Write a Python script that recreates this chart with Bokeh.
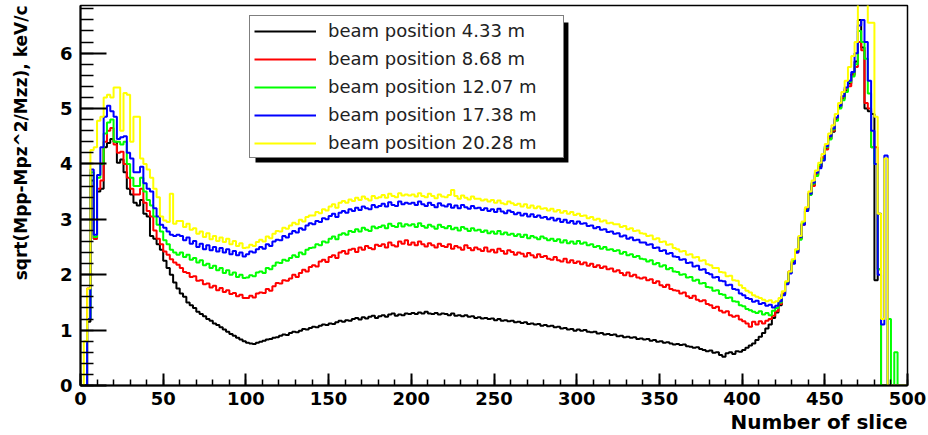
import numpy as np
from bokeh.plotting import figure
from bokeh.models import (Range1d, LinearAxis, SingleIntervalTicker, Title,
                          Legend, LegendItem, BoxAnnotation)
from bokeh.embed import file_html
from bokeh.resources import INLINE

# Histogram binning along the slice axis
BIN_WIDTH = 2
N_BINS = 250

labels = ["beam position 4.33 m", "beam position 8.68 m", "beam position 12.07 m",
          "beam position 17.38 m", "beam position 20.28 m"]
colors = ["#000000", "#ff0000", "#00ff00", "#0000ff", "#ffff00"]

# sqrt(Mpp-Mpz^2/Mzz) per slice, keV/c (one value per 2-slice bin)
pos_4_33 = [
    0, 0, 1.15, 3.70, 2.65, 3.50, 3.55, 4.30, 4.38, 4.45,
    4.40, 4.02, 4.08, 3.85, 3.55, 3.45, 3.30, 3.25, 3.35, 3.10,
    3.05, 2.70, 2.65, 2.55, 2.45, 2.25, 2.12, 2.00, 1.86, 1.75,
    1.66, 1.60, 1.50, 1.45, 1.40, 1.33, 1.29, 1.25, 1.20, 1.17,
    1.12, 1.09, 1.05, 1.01, 0.97, 0.93, 0.90, 0.86, 0.83, 0.80,
    0.77, 0.76, 0.75, 0.77, 0.79, 0.81, 0.83, 0.84, 0.86, 0.87,
    0.90, 0.92, 0.91, 0.95, 0.97, 0.96, 0.99, 1.02, 1.01, 1.04,
    1.06, 1.05, 1.08, 1.10, 1.09, 1.12, 1.11, 1.14, 1.17, 1.15,
    1.18, 1.17, 1.20, 1.22, 1.19, 1.23, 1.21, 1.24, 1.26, 1.22,
    1.25, 1.27, 1.24, 1.28, 1.30, 1.26, 1.28, 1.27, 1.30, 1.29,
    1.31, 1.29, 1.32, 1.30, 1.33, 1.30, 1.29, 1.31, 1.28, 1.30,
    1.29, 1.27, 1.30, 1.26, 1.27, 1.25, 1.27, 1.24, 1.25, 1.22,
    1.23, 1.21, 1.22, 1.20, 1.21, 1.18, 1.20, 1.17, 1.18, 1.16,
    1.17, 1.14, 1.15, 1.13, 1.14, 1.11, 1.12, 1.10, 1.11, 1.08,
    1.09, 1.07, 1.08, 1.05, 1.06, 1.03, 1.04, 1.01, 1.02, 0.99,
    1.01, 0.99, 1.00, 0.97, 0.96, 0.97, 0.94, 0.95, 0.92, 0.93,
    0.91, 0.92, 0.89, 0.90, 0.87, 0.88, 0.86, 0.87, 0.84, 0.85,
    0.83, 0.84, 0.81, 0.82, 0.79, 0.80, 0.77, 0.78, 0.76, 0.74,
    0.75, 0.73, 0.74, 0.71, 0.70, 0.68, 0.69, 0.66, 0.64, 0.62,
    0.63, 0.59, 0.60, 0.55, 0.52, 0.58, 0.60, 0.57, 0.62, 0.61,
    0.64, 0.68, 0.72, 0.76, 0.82, 0.88, 0.95, 1.03, 1.10, 1.22,
    1.32, 1.45, 1.65, 1.85, 2.05, 2.22, 2.42, 2.65, 2.92, 3.18,
    3.45, 3.62, 3.80, 3.95, 4.10, 4.28, 4.45, 4.58, 4.80, 5.02,
    5.18, 5.32, 5.45, 5.62, 5.85, 6.60, 6.10, 5.00, 4.95, 4.90,
    1.90, 3.10, 0, 0, 0, 0, 0, 0, 0, 0,
]

pos_8_68 = [
    0, 0, 1.75, 3.60, 2.65, 3.55, 3.70, 4.40, 4.60, 4.65,
    4.35, 4.20, 4.22, 4.00, 3.75, 3.55, 3.45, 3.45, 3.55, 3.30,
    3.15, 3.05, 2.80, 2.65, 2.55, 2.42, 2.36, 2.28, 2.22, 2.18,
    2.12, 2.05, 2.03, 1.96, 1.97, 1.89, 1.90, 1.83, 1.84, 1.77,
    1.80, 1.72, 1.76, 1.69, 1.72, 1.65, 1.67, 1.61, 1.64, 1.58,
    1.58, 1.62, 1.59, 1.66, 1.68, 1.67, 1.74, 1.71, 1.79, 1.85,
    1.84, 1.90, 1.89, 1.93, 2.00, 1.96, 2.03, 2.09, 2.06, 2.14,
    2.17, 2.15, 2.24, 2.27, 2.23, 2.32, 2.35, 2.30, 2.40, 2.43,
    2.38, 2.45, 2.47, 2.41, 2.49, 2.45, 2.52, 2.48, 2.46, 2.54,
    2.52, 2.55, 2.49, 2.58, 2.53, 2.51, 2.60, 2.56, 2.62, 2.54,
    2.58, 2.53, 2.60, 2.55, 2.51, 2.57, 2.53, 2.49, 2.56, 2.52,
    2.50, 2.55, 2.47, 2.52, 2.49, 2.45, 2.53, 2.48, 2.44, 2.49,
    2.46, 2.43, 2.49, 2.42, 2.45, 2.40, 2.47, 2.43, 2.38, 2.44,
    2.41, 2.36, 2.40, 2.38, 2.33, 2.39, 2.35, 2.31, 2.37, 2.32,
    2.34, 2.29, 2.27, 2.32, 2.26, 2.24, 2.29, 2.22, 2.26, 2.21,
    2.24, 2.19, 2.22, 2.16, 2.20, 2.14, 2.17, 2.12, 2.15, 2.10,
    2.11, 2.06, 2.08, 2.03, 1.99, 2.04, 1.97, 2.00, 1.95, 1.93,
    1.95, 1.90, 1.92, 1.85, 1.88, 1.81, 1.78, 1.82, 1.74, 1.72,
    1.71, 1.66, 1.68, 1.61, 1.58, 1.62, 1.55, 1.52, 1.54, 1.47,
    1.45, 1.40, 1.42, 1.35, 1.32, 1.34, 1.27, 1.24, 1.26, 1.19,
    1.16, 1.12, 1.06, 1.15, 1.10, 1.16, 1.12, 1.17, 1.20, 1.26,
    1.34, 1.47, 1.66, 1.84, 2.06, 2.24, 2.40, 2.66, 2.90, 3.20,
    3.47, 3.60, 3.82, 3.97, 4.12, 4.26, 4.48, 4.60, 4.82, 5.05,
    5.20, 5.35, 5.40, 5.60, 5.75, 6.20, 6.05, 5.10, 5.00, 4.30,
    4.30, 2.10, 0, 0, 0, 0, 0, 0, 0, 0,
]

pos_12_07 = [
    0, 0, 1.20, 3.85, 2.68, 3.75, 4.00, 4.55, 4.75, 4.80,
    4.40, 4.40, 4.35, 4.40, 4.00, 3.75, 3.60, 3.60, 3.75, 3.50,
    3.35, 3.25, 3.05, 2.90, 2.78, 2.62, 2.55, 2.45, 2.40, 2.36,
    2.40, 2.32, 2.36, 2.27, 2.30, 2.22, 2.26, 2.17, 2.20, 2.12,
    2.16, 2.08, 2.12, 2.03, 2.08, 2.00, 2.04, 1.96, 2.00, 1.94,
    1.95, 1.99, 1.97, 2.04, 2.06, 2.03, 2.12, 2.10, 2.16, 2.22,
    2.21, 2.27, 2.25, 2.30, 2.35, 2.32, 2.40, 2.37, 2.45, 2.48,
    2.49, 2.55, 2.53, 2.60, 2.58, 2.65, 2.69, 2.64, 2.72, 2.75,
    2.72, 2.79, 2.77, 2.82, 2.78, 2.85, 2.81, 2.79, 2.87, 2.84,
    2.86, 2.89, 2.84, 2.92, 2.88, 2.86, 2.93, 2.87, 2.91, 2.89,
    2.91, 2.86, 2.93, 2.88, 2.85, 2.90, 2.87, 2.83, 2.90, 2.86,
    2.84, 2.88, 2.82, 2.85, 2.80, 2.86, 2.83, 2.79, 2.84, 2.80,
    2.81, 2.77, 2.80, 2.75, 2.78, 2.74, 2.79, 2.73, 2.76, 2.72,
    2.74, 2.70, 2.73, 2.68, 2.72, 2.66, 2.70, 2.67, 2.64, 2.69,
    2.66, 2.62, 2.65, 2.61, 2.64, 2.58, 2.62, 2.57, 2.60, 2.56,
    2.61, 2.56, 2.58, 2.53, 2.55, 2.50, 2.52, 2.47, 2.50, 2.45,
    2.46, 2.43, 2.44, 2.38, 2.41, 2.35, 2.37, 2.32, 2.34, 2.29,
    2.28, 2.24, 2.26, 2.19, 2.21, 2.15, 2.17, 2.10, 2.12, 2.06,
    2.05, 2.00, 2.01, 1.95, 1.96, 1.89, 1.91, 1.84, 1.85, 1.78,
    1.77, 1.71, 1.72, 1.65, 1.64, 1.58, 1.59, 1.52, 1.51, 1.45,
    1.43, 1.38, 1.36, 1.33, 1.31, 1.34, 1.28, 1.31, 1.27, 1.35,
    1.40, 1.50, 1.64, 1.86, 2.04, 2.25, 2.44, 2.63, 2.94, 3.16,
    3.44, 3.64, 3.78, 3.98, 4.08, 4.30, 4.44, 4.62, 4.78, 5.00,
    5.15, 5.30, 5.48, 5.58, 5.80, 6.40, 6.20, 5.90, 5.27, 4.30,
    4.00, 2.10, 0, 0, 1.20, 0, 0.60, 0, 0, 0,
]

pos_17_38 = [
    0, 0, 1.20, 3.90, 2.72, 3.80, 4.30, 4.85, 5.05, 4.95,
    4.85, 4.45, 4.48, 4.50, 4.20, 4.10, 3.85, 3.85, 3.95, 3.65,
    3.55, 3.50, 3.20, 3.05, 2.90, 2.85, 2.78, 2.72, 2.70, 2.72,
    2.70, 2.62, 2.67, 2.56, 2.61, 2.50, 2.56, 2.46, 2.53, 2.44,
    2.50, 2.42, 2.48, 2.40, 2.46, 2.37, 2.43, 2.35, 2.40, 2.33,
    2.37, 2.42, 2.40, 2.46, 2.50, 2.47, 2.55, 2.52, 2.60, 2.63,
    2.62, 2.70, 2.67, 2.74, 2.79, 2.76, 2.84, 2.81, 2.89, 2.93,
    2.91, 2.97, 2.95, 3.02, 3.00, 3.06, 3.10, 3.04, 3.12, 3.15,
    3.12, 3.18, 3.15, 3.21, 3.17, 3.23, 3.20, 3.18, 3.26, 3.22,
    3.24, 3.28, 3.23, 3.31, 3.26, 3.24, 3.32, 3.27, 3.30, 3.28,
    3.30, 3.26, 3.32, 3.27, 3.24, 3.30, 3.26, 3.22, 3.29, 3.25,
    3.23, 3.27, 3.21, 3.25, 3.20, 3.26, 3.22, 3.19, 3.24, 3.20,
    3.21, 3.17, 3.20, 3.15, 3.18, 3.13, 3.19, 3.14, 3.11, 3.16,
    3.13, 3.09, 3.12, 3.07, 3.10, 3.05, 3.09, 3.04, 3.07, 3.03,
    3.04, 3.00, 3.03, 2.98, 3.01, 2.95, 2.99, 2.94, 2.97, 2.92,
    2.96, 2.92, 2.93, 2.88, 2.89, 2.84, 2.86, 2.81, 2.82, 2.77,
    2.78, 2.74, 2.75, 2.69, 2.71, 2.65, 2.67, 2.62, 2.63, 2.58,
    2.58, 2.54, 2.55, 2.48, 2.49, 2.43, 2.44, 2.38, 2.39, 2.33,
    2.32, 2.27, 2.28, 2.21, 2.22, 2.15, 2.16, 2.09, 2.10, 2.03,
    2.01, 1.95, 1.96, 1.89, 1.88, 1.81, 1.82, 1.74, 1.73, 1.66,
    1.63, 1.58, 1.56, 1.51, 1.53, 1.47, 1.49, 1.44, 1.46, 1.41,
    1.44, 1.52, 1.63, 1.83, 2.02, 2.20, 2.40, 2.68, 2.90, 3.15,
    3.46, 3.66, 3.84, 3.92, 4.06, 4.32, 4.50, 4.64, 4.84, 5.05,
    5.22, 5.38, 5.50, 5.66, 6.00, 6.50, 6.60, 6.20, 5.50, 4.60,
    4.00, 2.00, 1.10, 4.15, 0, 0, 0, 0, 0, 0,
]

pos_20_28 = [
    0, 0.80, 1.75, 4.25, 4.30, 4.78, 4.85, 5.20, 5.25, 5.20,
    5.38, 5.38, 4.60, 5.28, 5.25, 4.40, 4.85, 4.85, 4.10, 4.00,
    3.90, 3.75, 3.55, 3.40, 3.05, 2.98, 2.95, 3.46, 2.92, 2.97,
    2.97, 2.86, 2.92, 2.81, 2.84, 2.74, 2.78, 2.68, 2.75, 2.64,
    2.70, 2.61, 2.67, 2.59, 2.65, 2.55, 2.61, 2.52, 2.57, 2.48,
    2.49, 2.54, 2.52, 2.59, 2.63, 2.60, 2.69, 2.66, 2.74, 2.79,
    2.78, 2.85, 2.83, 2.89, 2.94, 2.91, 2.99, 2.96, 3.04, 3.07,
    3.07, 3.13, 3.11, 3.18, 3.16, 3.23, 3.27, 3.21, 3.30, 3.33,
    3.30, 3.36, 3.33, 3.39, 3.35, 3.41, 3.37, 3.34, 3.42, 3.38,
    3.40, 3.44, 3.39, 3.46, 3.42, 3.40, 3.47, 3.43, 3.45, 3.43,
    3.45, 3.41, 3.47, 3.42, 3.40, 3.46, 3.42, 3.38, 3.45, 3.41,
    3.40, 3.44, 3.53, 3.42, 3.37, 3.43, 3.39, 3.36, 3.41, 3.37,
    3.37, 3.34, 3.36, 3.32, 3.35, 3.30, 3.34, 3.29, 3.27, 3.32,
    3.29, 3.26, 3.28, 3.23, 3.27, 3.21, 3.25, 3.20, 3.23, 3.19,
    3.20, 3.16, 3.19, 3.14, 3.17, 3.12, 3.15, 3.10, 3.13, 3.08,
    3.10, 3.06, 3.07, 3.02, 3.04, 2.99, 3.01, 2.96, 2.98, 2.93,
    2.94, 2.91, 2.91, 2.86, 2.88, 2.82, 2.84, 2.79, 2.80, 2.75,
    2.74, 2.70, 2.71, 2.64, 2.66, 2.59, 2.60, 2.54, 2.55, 2.48,
    2.46, 2.42, 2.43, 2.36, 2.37, 2.31, 2.32, 2.25, 2.26, 2.19,
    2.17, 2.12, 2.12, 2.05, 2.04, 1.97, 1.98, 1.90, 1.89, 1.81,
    1.76, 1.71, 1.68, 1.63, 1.60, 1.58, 1.55, 1.52, 1.54, 1.50,
    1.52, 1.58, 1.70, 1.88, 2.06, 2.28, 2.46, 2.70, 2.96, 3.22,
    3.50, 3.70, 3.88, 4.02, 4.18, 4.36, 4.55, 4.70, 4.90, 5.10,
    5.30, 5.50, 5.75, 5.95, 6.20, 6.90, 6.90, 6.90, 6.55, 6.55,
    4.85, 3.10, 1.20, 4.10, 0, 0, 0, 0, 0, 0,
]

series = [pos_4_33, pos_8_68, pos_12_07, pos_17_38, pos_20_28]
for s in series:
    assert len(s) == N_BINS

# bin edges (left edges plus the closing right edge)
edges = [BIN_WIDTH * i for i in range(N_BINS + 1)]

FONT = "DejaVu Sans"

p = figure(width=928, height=435,
           x_range=Range1d(0, 500), y_range=Range1d(0, 6.86),
           x_axis_type=None, y_axis_type=None,
           output_backend="svg", toolbar_location=None,
           min_border_left=80, min_border_right=21,
           min_border_top=5, min_border_bottom=50)
p.background_fill_color = "white"
p.border_fill_color = "white"
p.outline_line_color = "black"
p.outline_line_width = 1.5
p.xgrid.visible = False
p.ygrid.visible = False

xaxis = LinearAxis(ticker=SingleIntervalTicker(interval=50, num_minor_ticks=5))
yaxis = LinearAxis(ticker=SingleIntervalTicker(interval=1, num_minor_ticks=5))
for ax in (xaxis, yaxis):
    ax.axis_line_width = 2
    ax.axis_line_color = "black"
    ax.major_tick_out = 0
    ax.minor_tick_out = 0
    ax.major_tick_line_width = 2
    ax.minor_tick_line_width = 1.5
    ax.major_label_text_font = FONT
    ax.major_label_text_font_style = "bold"
    ax.major_label_text_font_size = "18px"
    ax.major_label_text_color = "black"
xaxis.major_tick_in = 12
xaxis.minor_tick_in = 6
xaxis.major_label_standoff = 6
yaxis.major_tick_in = 26
yaxis.minor_tick_in = 13
yaxis.major_label_standoff = 8
p.add_layout(xaxis, "below")
p.add_layout(yaxis, "left")

# axis titles, right-aligned at the far end of each axis
p.add_layout(Title(text="Number of slice", align="right",
                   text_font=FONT, text_font_style="bold", text_font_size="20px",
                   text_color="black", standoff=0), "below")
# blank spacer between the y tick labels and the y title
p.add_layout(Title(text=" ", text_font_size="8px"), "left")
p.add_layout(Title(text="sqrt(Mpp-Mpz^2/Mzz), keV/c", align="right",
                   text_font=FONT, text_font_style="bold", text_font_size="17px",
                   text_color="black"), "left")

renderers = []
for vals, col in zip(series, colors):
    ys = list(vals) + [vals[-1]]
    r = p.step(x=edges, y=ys, mode="after", line_color=col, line_width=2)
    renderers.append(r)

# legend drop shadow
shadow = BoxAnnotation(left=105.8, right=295.0, top=6.553, bottom=4.026,
                       fill_color="black", fill_alpha=1.0, line_color=None)
p.add_layout(shadow)

legend = Legend(items=[LegendItem(label=lab, renderers=[r]) for lab, r in zip(labels, renderers)],
                location=(169, 227), orientation="vertical",
                padding=4, spacing=7, margin=0,
                glyph_width=62, glyph_height=20,
                label_width=231, label_height=20, label_standoff=12,
                label_text_font=FONT, label_text_font_size="18px",
                label_text_color="#222222",
                border_line_color="black", border_line_width=1.5,
                background_fill_color="white", background_fill_alpha=1.0)
p.add_layout(legend)

open("out.html", "w").write(file_html(p, INLINE))
